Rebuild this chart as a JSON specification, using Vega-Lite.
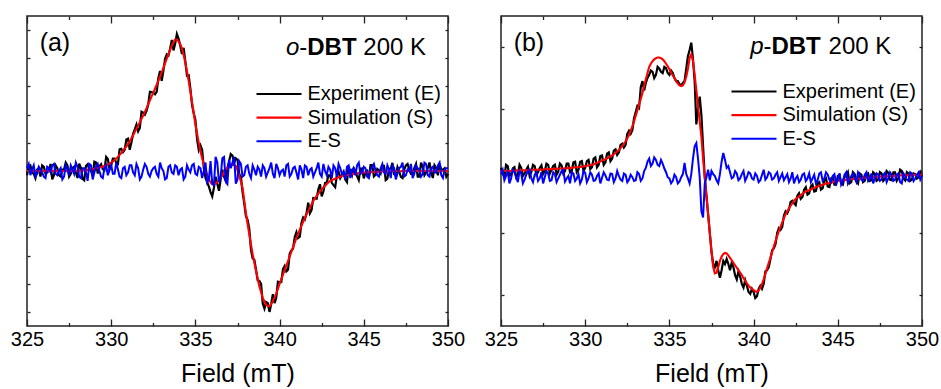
{
  "$schema": "https://vega.github.io/schema/vega-lite/v6.json",
  "padding": {"left": 9, "top": 14, "right": 2, "bottom": 0},
  "background": "white",
  "config": {
    "font": "Liberation Sans",
    "view": {"stroke": "#222", "strokeWidth": 1.5},
    "axis": {"grid": false, "labelFont": "Liberation Sans", "labelFontSize": 20, "labelColor": "#000", "titleFont": "Liberation Sans", "titleFontSize": 25, "titleFontWeight": "normal", "titleColor": "#000", "domain": false, "tickColor": "#222", "tickWidth": 1.3, "labelFlush": false, "labelOverlap": false},
    "legend": {"symbolType": "M-3,0H3", "symbolSize": 225, "symbolStrokeWidth": 2.2, "labelFontSize": 20, "labelFont": "Liberation Sans", "labelColor": "#000", "labelOffset": 18.5, "rowPadding": 3.6, "padding": 0},
    "text": {"font": "Liberation Sans", "fontSize": 24, "align": "left", "baseline": "alphabetic", "color": "#000"}
  },
  "datasets": {
    "a": [
      {"x":325.0,"s":0,"r":0.1,"e":-0.15},{"x":325.2,"s":0,"r":-0.15,"e":0.2},{"x":325.4,"s":0,"r":0.2,"e":-0.1},{"x":325.6,"s":0,"r":-0.1,"e":0.05},{"x":325.8,"s":0,"r":0.05,"e":-0.2},
      {"x":326.0,"s":0,"r":-0.2,"e":0.15},{"x":326.2,"s":0,"r":0.15,"e":-0.05},{"x":326.4,"s":0,"r":-0.05,"e":0.25},{"x":326.6,"s":0,"r":0.25,"e":-0.15},{"x":326.8,"s":0,"r":-0.15,"e":0.1},
      {"x":327.0,"s":0,"r":0.1,"e":-0.2},{"x":327.2,"s":0,"r":-0.2,"e":0.05},{"x":327.4,"s":0,"r":0.05,"e":0.2},{"x":327.6,"s":0,"r":0.2,"e":-0.1},{"x":327.8,"s":0,"r":-0.1,"e":0.15},
      {"x":328.0,"s":0,"r":0.15,"e":-0.25},{"x":328.2,"s":0.01,"r":-0.25,"e":0.11},{"x":328.4,"s":0.02,"r":0.1,"e":-0.33},{"x":328.6,"s":0.04,"r":-0.35,"e":0.24},{"x":328.8,"s":0.06,"r":0.2,"e":0.01},
      {"x":329.0,"s":0.08,"r":-0.05,"e":0.33},{"x":329.2,"s":0.11,"r":0.25,"e":-0.09},{"x":329.4,"s":0.14,"r":-0.2,"e":0.24},{"x":329.6,"s":0.18,"r":0.1,"e":0.03},{"x":329.8,"s":0.23,"r":-0.15,"e":0.43},
      {"x":330.0,"s":0.3,"r":0.2,"e":0.2},{"x":330.2,"s":0.39,"r":-0.1,"e":0.44},{"x":330.4,"s":0.5,"r":0.05,"e":0.25},{"x":330.6,"s":0.64,"r":-0.25,"e":0.79},{"x":330.8,"s":0.8,"r":0.15,"e":0.75},
      {"x":331.0,"s":0.95,"r":-0.05,"e":1.15},{"x":331.2,"s":1.16,"r":0.2,"e":1.01},{"x":331.4,"s":1.38,"r":-0.15,"e":1.48},{"x":331.6,"s":1.61,"r":0.1,"e":1.41},{"x":331.8,"s":1.85,"r":-0.2,"e":2.1},
      {"x":332.0,"s":2.1,"r":0.25,"e":2.0},{"x":332.2,"s":2.37,"r":-0.1,"e":2.37},{"x":332.4,"s":2.65,"r":0.0,"e":2.8},{"x":332.6,"s":2.92,"r":0.15,"e":2.72},{"x":332.8,"s":3.2,"r":-0.2,"e":3.3},
      {"x":333.0,"s":3.5,"r":0.1,"e":3.2},{"x":333.2,"s":3.83,"r":-0.3,"e":3.98},{"x":333.4,"s":4.15,"r":0.15,"e":4.1},{"x":333.6,"s":4.45,"r":-0.05,"e":4.65},{"x":333.8,"s":4.67,"r":0.2,"e":4.52},
      {"x":334.0,"s":4.6,"r":-0.15,"e":4.7},{"x":334.2,"s":4.35,"r":0.1,"e":4.15},{"x":334.4,"s":3.85,"r":-0.2,"e":3.9},{"x":334.6,"s":3.2,"r":0.05,"e":3.4},{"x":334.8,"s":2.45,"r":0.2,"e":2.35},
      {"x":335.0,"s":1.66,"r":-0.1,"e":1.81},{"x":335.2,"s":1.0,"r":0.15,"e":0.75},{"x":335.4,"s":0.45,"r":-0.25,"e":0.75},{"x":335.6,"s":0.05,"r":0.3,"e":-0.25},{"x":335.8,"s":-0.3,"r":-0.3,"e":-0.55},
      {"x":336.0,"s":-0.47,"r":-0.45,"e":-0.9},{"x":336.2,"s":-0.45,"r":0.5,"e":-0.2},{"x":336.4,"s":-0.32,"r":-0.4,"e":-0.7},{"x":336.6,"s":-0.15,"r":0.45,"e":0.05},{"x":336.8,"s":0.05,"r":-0.35,"e":-0.35},
      {"x":337.0,"s":0.18,"r":0.4,"e":0.35},{"x":337.2,"s":0.22,"r":0.3,"e":0.55},{"x":337.4,"s":0.18,"r":-0.45,"e":0.45},{"x":337.6,"s":-0.15,"r":0.35,"e":-0.1},{"x":337.8,"s":-0.6,"r":-0.2,"e":-0.75},
      {"x":338.0,"s":-1.5,"r":0.15,"e":-1.6},{"x":338.2,"s":-2.25,"r":-0.1,"e":-2.05},{"x":338.4,"s":-2.95,"r":0.2,"e":-3.1},{"x":338.6,"s":-3.55,"r":-0.15,"e":-3.5},{"x":338.8,"s":-4.1,"r":0.05,"e":-3.9},
      {"x":339.0,"s":-4.5,"r":0.2,"e":-4.7},{"x":339.2,"s":-4.75,"r":-0.2,"e":-4.65},{"x":339.4,"s":-4.8,"r":0.1,"e":-5.0},{"x":339.6,"s":-4.62,"r":-0.1,"e":-4.37},{"x":339.8,"s":-4.35,"r":0.25,"e":-4.5},
      {"x":340.0,"s":-4.0,"r":-0.15,"e":-3.95},{"x":340.2,"s":-3.68,"r":0.05,"e":-3.48},{"x":340.4,"s":-3.36,"r":0.2,"e":-3.56},{"x":340.6,"s":-3.03,"r":-0.2,"e":-2.93},{"x":340.8,"s":-2.7,"r":0.1,"e":-2.75},
      {"x":341.0,"s":-2.37,"r":-0.05,"e":-2.17},{"x":341.2,"s":-2.08,"r":0.2,"e":-2.33},{"x":341.4,"s":-1.8,"r":-0.25,"e":-1.65},{"x":341.6,"s":-1.54,"r":0.15,"e":-1.49},{"x":341.8,"s":-1.3,"r":0.05,"e":-1.5},
      {"x":342.0,"s":-1.06,"r":-0.2,"e":-0.96},{"x":342.2,"s":-0.88,"r":0.1,"e":-0.98},{"x":342.4,"s":-0.72,"r":-0.1,"e":-0.47},{"x":342.6,"s":-0.58,"r":0.25,"e":-0.73},{"x":342.8,"s":-0.46,"r":-0.15,"e":-0.41},
      {"x":343.0,"s":-0.35,"r":0.05,"e":-0.15},{"x":343.2,"s":-0.3,"r":0.2,"e":-0.5},{"x":343.4,"s":-0.25,"r":-0.2,"e":-0.15},{"x":343.6,"s":-0.2,"r":0.1,"e":-0.25},{"x":343.8,"s":-0.17,"r":-0.05,"e":-0.02},
      {"x":344.0,"s":-0.14,"r":0.15,"e":-0.39},{"x":344.2,"s":-0.12,"r":-0.25,"e":-0.02},{"x":344.4,"s":-0.1,"r":0.1,"e":0.1},{"x":344.6,"s":-0.08,"r":0.2,"e":-0.18},{"x":344.8,"s":-0.07,"r":-0.1,"e":0.08},
      {"x":345.0,"s":-0.06,"r":0.15,"e":-0.26},{"x":345.2,"s":-0.05,"r":-0.2,"e":0.0},{"x":345.4,"s":-0.04,"r":0.05,"e":0.21},{"x":345.6,"s":-0.04,"r":0.25,"e":-0.19},{"x":345.8,"s":-0.03,"r":-0.15,"e":0.07},
      {"x":346.0,"s":-0.03,"r":0.1,"e":-0.08},{"x":346.2,"s":-0.02,"r":-0.05,"e":0.18},{"x":346.4,"s":-0.02,"r":0.2,"e":-0.27},{"x":346.6,"s":-0.02,"r":-0.25,"e":0.08},{"x":346.8,"s":-0.01,"r":0.1,"e":-0.11},
      {"x":347.0,"s":-0.01,"r":-0.1,"e":0.14},{"x":347.2,"s":-0.01,"r":0.15,"e":-0.21},{"x":347.4,"s":0,"r":-0.2,"e":0.05},{"x":347.6,"s":0,"r":0.05,"e":0.25},{"x":347.8,"s":0,"r":0.25,"e":-0.1},
      {"x":348.0,"s":0,"r":-0.1,"e":0.1},{"x":348.2,"s":0,"r":0.1,"e":-0.2},{"x":348.4,"s":0,"r":-0.2,"e":0.3},{"x":348.6,"s":0,"r":0.3,"e":-0.15},{"x":348.8,"s":0,"r":-0.15,"e":0.1},
      {"x":349.0,"s":0,"r":0.1,"e":-0.05},{"x":349.2,"s":0,"r":-0.05,"e":0.2},{"x":349.4,"s":0,"r":0.2,"e":-0.15},{"x":349.6,"s":0,"r":-0.15,"e":0.05},{"x":349.8,"s":0,"r":0.05,"e":0.1},
      {"x":350.0,"s":0,"r":0.1,"e":-0.1},
      {"x":325.1,"s":0,"r":0.25,"e":0.15},{"x":325.3,"s":0,"r":0.05,"e":-0.05},{"x":325.5,"s":0,"r":-0.2,"e":-0.25},{"x":325.7,"s":0,"r":0.15,"e":0.1},{"x":325.9,"s":0,"r":-0.05,"e":0.2},
      {"x":326.1,"s":0,"r":-0.25,"e":-0.1},{"x":326.3,"s":0,"r":0.1,"e":0.0},{"x":326.5,"s":0,"r":0.2,"e":-0.3},{"x":326.7,"s":0,"r":-0.1,"e":0.2},{"x":326.9,"s":0,"r":0.0,"e":-0.15},
      {"x":327.1,"s":0,"r":-0.3,"e":0.05},{"x":327.3,"s":0,"r":0.2,"e":0.3},{"x":327.5,"s":0,"r":-0.15,"e":-0.2},{"x":327.7,"s":0,"r":0.05,"e":0.1},{"x":327.9,"s":0,"r":0.3,"e":-0.05},
      {"x":328.1,"s":0.01,"r":-0.2,"e":0.26},{"x":328.3,"s":0.02,"r":0.1,"e":-0.28},{"x":328.5,"s":0.03,"r":-0.05,"e":0.18},{"x":328.7,"s":0.05,"r":0.25,"e":0.05},{"x":328.9,"s":0.07,"r":-0.3,"e":-0.18},
      {"x":329.1,"s":0.1,"r":0.15,"e":0.3},{"x":329.3,"s":0.12,"r":0.0,"e":0.17},{"x":329.5,"s":0.16,"r":-0.25,"e":0.06},{"x":329.7,"s":0.2,"r":0.2,"e":0.5},{"x":329.9,"s":0.26,"r":0.05,"e":0.06},
      {"x":330.1,"s":0.34,"r":-0.1,"e":0.44},{"x":330.3,"s":0.44,"r":0.3,"e":0.29},{"x":330.5,"s":0.57,"r":-0.2,"e":0.77},{"x":330.7,"s":0.72,"r":0.1,"e":0.67},{"x":330.9,"s":0.87,"r":-0.15,"e":1.12},
      {"x":331.1,"s":1.05,"r":0.2,"e":0.75},{"x":331.3,"s":1.27,"r":-0.05,"e":1.32},{"x":331.5,"s":1.5,"r":0.25,"e":1.65},{"x":331.7,"s":1.73,"r":-0.3,"e":1.53},{"x":331.9,"s":1.97,"r":0.05,"e":2.07},
      {"x":332.1,"s":2.23,"r":0.15,"e":2.13},{"x":332.3,"s":2.51,"r":-0.2,"e":2.81},{"x":332.5,"s":2.78,"r":0.1,"e":2.78},{"x":332.7,"s":3.06,"r":-0.1,"e":2.81},{"x":332.9,"s":3.35,"r":0.3,"e":3.55},
      {"x":333.1,"s":3.66,"r":0.0,"e":3.56},{"x":333.3,"s":3.99,"r":-0.25,"e":4.14},{"x":333.5,"s":4.3,"r":0.2,"e":4.35},{"x":333.7,"s":4.58,"r":-0.1,"e":4.28},{"x":333.9,"s":4.66,"r":0.15,"e":4.86},
      {"x":334.1,"s":4.5,"r":0.05,"e":4.45},{"x":334.3,"s":4.12,"r":-0.3,"e":4.37},{"x":334.5,"s":3.53,"r":0.2,"e":3.38},{"x":334.7,"s":2.83,"r":-0.05,"e":2.93},{"x":334.9,"s":2.05,"r":0.25,"e":2.05},
      {"x":335.1,"s":1.32,"r":-0.15,"e":1.12},{"x":335.3,"s":0.71,"r":0.1,"e":0.91},{"x":335.5,"s":0.24,"r":0.0,"e":0.1},{"x":335.7,"s":-0.13,"r":-0.4,"e":-0.4},{"x":335.9,"s":-0.4,"r":0.35,"e":-0.75},
      {"x":336.1,"s":-0.47,"r":-0.5,"e":-0.6},{"x":336.3,"s":-0.39,"r":0.3,"e":-0.45},{"x":336.5,"s":-0.24,"r":-0.2,"e":-0.3},{"x":336.7,"s":-0.05,"r":0.5,"e":-0.2},{"x":336.9,"s":0.12,"r":-0.45,"e":0.1},
      {"x":337.1,"s":0.21,"r":0.1,"e":0.6},{"x":337.3,"s":0.21,"r":0.5,"e":0.3},{"x":337.5,"s":0.02,"r":-0.3,"e":0.4},{"x":337.7,"s":-0.37,"r":0.25,"e":-0.2},{"x":337.9,"s":-1.05,"r":-0.15,"e":-1.15},
      {"x":338.1,"s":-1.88,"r":0.2,"e":-1.73},{"x":338.3,"s":-2.6,"r":-0.25,"e":-2.8},{"x":338.5,"s":-3.25,"r":0.05,"e":-3.15},{"x":338.7,"s":-3.83,"r":0.15,"e":-3.88},{"x":338.9,"s":-4.3,"r":-0.2,"e":-4.0},
      {"x":339.1,"s":-4.63,"r":0.1,"e":-4.88},{"x":339.3,"s":-4.79,"r":-0.05,"e":-4.69},{"x":339.5,"s":-4.72,"r":0.3,"e":-4.72},{"x":339.7,"s":-4.49,"r":-0.25,"e":-4.69},{"x":339.9,"s":-4.18,"r":0.1,"e":-3.93},
      {"x":340.1,"s":-3.84,"r":0.0,"e":-3.94},{"x":340.3,"s":-3.52,"r":-0.2,"e":-3.37},{"x":340.5,"s":-3.2,"r":0.25,"e":-3.5},{"x":340.7,"s":-2.87,"r":-0.1,"e":-2.82},{"x":340.9,"s":-2.54,"r":0.15,"e":-2.34},
      {"x":341.1,"s":-2.23,"r":-0.3,"e":-2.38},{"x":341.3,"s":-1.94,"r":0.05,"e":-1.84},{"x":341.5,"s":-1.67,"r":0.2,"e":-1.72},{"x":341.7,"s":-1.42,"r":-0.15,"e":-1.12},{"x":341.9,"s":-1.18,"r":0.1,"e":-1.38},
      {"x":342.1,"s":-0.97,"r":-0.05,"e":-0.97},{"x":342.3,"s":-0.8,"r":0.3,"e":-0.65},{"x":342.5,"s":-0.65,"r":-0.2,"e":-0.9},{"x":342.7,"s":-0.52,"r":0.0,"e":-0.42},{"x":342.9,"s":-0.4,"r":0.15,"e":-0.15},
      {"x":343.1,"s":-0.32,"r":-0.25,"e":-0.42},{"x":343.3,"s":-0.27,"r":0.1,"e":-0.57},{"x":343.5,"s":-0.22,"r":0.25,"e":-0.02},{"x":343.7,"s":-0.18,"r":-0.1,"e":-0.13},{"x":343.9,"s":-0.15,"r":-0.3,"e":-0.3},
      {"x":344.1,"s":-0.13,"r":0.2,"e":0.17},{"x":344.3,"s":-0.11,"r":0.05,"e":-0.16},{"x":344.5,"s":-0.09,"r":-0.15,"e":0.01},{"x":344.7,"s":-0.07,"r":0.3,"e":-0.32},{"x":344.9,"s":-0.06,"r":-0.05,"e":0.09},
      {"x":345.1,"s":-0.05,"r":0.1,"e":-0.05},{"x":345.3,"s":-0.04,"r":-0.25,"e":-0.24},{"x":345.5,"s":-0.04,"r":0.15,"e":0.21},{"x":345.7,"s":-0.03,"r":0.0,"e":-0.13},{"x":345.9,"s":-0.03,"r":-0.2,"e":0.02},
      {"x":346.1,"s":-0.02,"r":0.25,"e":0.18},{"x":346.3,"s":-0.02,"r":-0.1,"e":-0.32},{"x":346.5,"s":-0.02,"r":0.05,"e":0.08},{"x":346.7,"s":-0.01,"r":0.2,"e":0.29},{"x":346.9,"s":-0.01,"r":-0.3,"e":-0.16},
      {"x":347.1,"s":-0.01,"r":0.1,"e":-0.01},{"x":347.3,"s":0,"r":0.3,"e":-0.25},{"x":347.5,"s":0,"r":-0.15,"e":0.2},{"x":347.7,"s":0,"r":0.0,"e":0.05},{"x":347.9,"s":0,"r":-0.25,"e":-0.1},
      {"x":348.1,"s":0,"r":0.2,"e":0.25},{"x":348.3,"s":0,"r":0.05,"e":-0.2},{"x":348.5,"s":0,"r":-0.1,"e":0.15},{"x":348.7,"s":0,"r":0.25,"e":-0.05},{"x":348.9,"s":0,"r":-0.2,"e":0.3},
      {"x":349.1,"s":0,"r":0.15,"e":-0.25},{"x":349.3,"s":0,"r":-0.05,"e":0.1},{"x":349.5,"s":0,"r":0.3,"e":0.25},{"x":349.7,"s":0,"r":-0.25,"e":0.05},{"x":349.9,"s":0,"r":0.1,"e":-0.2}
    ],
    "b": [
      {"x":325.0,"s":0.0,"r":-0.05,"e":0.05},{"x":325.2,"s":0.0,"r":-0.15,"e":-0.1},{"x":325.4,"s":0.0,"r":0.0,"e":0.08},{"x":325.6,"s":0.0,"r":-0.12,"e":-0.05},{"x":325.8,"s":0.0,"r":-0.02,"e":0.06},
      {"x":326.0,"s":0.01,"r":-0.18,"e":-0.06},{"x":326.2,"s":0.01,"r":-0.04,"e":0.05},{"x":326.4,"s":0.01,"r":-0.14,"e":-0.04},{"x":326.6,"s":0.01,"r":0.0,"e":0.07},{"x":326.8,"s":0.02,"r":-0.12,"e":-0.02},
      {"x":327.0,"s":0.02,"r":-0.06,"e":0.08},{"x":327.2,"s":0.02,"r":-0.16,"e":-0.02},{"x":327.4,"s":0.02,"r":-0.02,"e":0.09},{"x":327.6,"s":0.03,"r":-0.1,"e":0.0},{"x":327.8,"s":0.03,"r":-0.04,"e":0.1},
      {"x":328.0,"s":0.03,"r":-0.15,"e":0.02},{"x":328.2,"s":0.03,"r":-0.05,"e":0.1},{"x":328.4,"s":0.04,"r":-0.12,"e":-0.01},{"x":328.6,"s":0.04,"r":0.0,"e":0.09},{"x":328.8,"s":0.04,"r":-0.17,"e":0.0},
      {"x":329.0,"s":0.05,"r":-0.08,"e":0.12},{"x":329.2,"s":0.05,"r":-0.02,"e":0.0},{"x":329.4,"s":0.06,"r":-0.16,"e":0.15},{"x":329.6,"s":0.06,"r":-0.05,"e":0.02},{"x":329.8,"s":0.07,"r":-0.14,"e":0.16},
      {"x":330.0,"s":0.08,"r":-0.03,"e":0.05},{"x":330.2,"s":0.09,"r":-0.12,"e":0.18},{"x":330.4,"s":0.1,"r":-0.06,"e":0.06},{"x":330.6,"s":0.12,"r":-0.15,"e":0.22},{"x":330.8,"s":0.14,"r":-0.04,"e":0.1},
      {"x":331.0,"s":0.17,"r":-0.11,"e":0.25},{"x":331.2,"s":0.19,"r":-0.07,"e":0.14},{"x":331.4,"s":0.22,"r":-0.15,"e":0.3},{"x":331.6,"s":0.25,"r":-0.05,"e":0.2},{"x":331.8,"s":0.29,"r":-0.12,"e":0.35},
      {"x":332.0,"s":0.34,"r":-0.08,"e":0.3},{"x":332.2,"s":0.4,"r":-0.16,"e":0.44},{"x":332.4,"s":0.48,"r":-0.06,"e":0.42},{"x":332.6,"s":0.58,"r":-0.14,"e":0.65},{"x":332.8,"s":0.72,"r":-0.1,"e":0.66},
      {"x":333.0,"s":0.89,"r":-0.15,"e":0.95},{"x":333.2,"s":1.07,"r":-0.05,"e":1.02},{"x":333.4,"s":1.26,"r":-0.12,"e":1.45},{"x":333.6,"s":1.48,"r":0.05,"e":1.42},{"x":333.8,"s":1.68,"r":0.2,"e":1.55},
      {"x":334.0,"s":1.77,"r":0.12,"e":1.6},{"x":334.2,"s":1.82,"r":0.18,"e":1.55},{"x":334.4,"s":1.83,"r":0.08,"e":1.65},{"x":334.6,"s":1.8,"r":0.12,"e":1.58},{"x":334.8,"s":1.73,"r":-0.02,"e":1.66},
      {"x":335.0,"s":1.64,"r":-0.12,"e":1.55},{"x":335.2,"s":1.54,"r":-0.16,"e":1.58},{"x":335.4,"s":1.45,"r":-0.1,"e":1.45},{"x":335.6,"s":1.38,"r":-0.17,"e":1.4},{"x":335.8,"s":1.38,"r":-0.05,"e":1.42},
      {"x":335.9,"s":1.43,"r":0.13,"e":1.45},{"x":336.0,"s":1.52,"r":-0.05,"e":1.65},{"x":336.1,"s":1.65,"r":-0.12,"e":1.85},{"x":336.2,"s":1.82,"r":-0.2,"e":1.95},{"x":336.3,"s":1.88,"r":-0.05,"e":2.07},
      {"x":336.4,"s":1.78,"r":0.2,"e":1.8},{"x":336.5,"s":1.55,"r":0.4,"e":1.45},{"x":336.6,"s":1.3,"r":0.45,"e":0.75},{"x":336.7,"s":1.05,"r":0.2,"e":1.0},{"x":336.8,"s":0.8,"r":-0.1,"e":1.2},
      {"x":336.9,"s":0.55,"r":-0.65,"e":0.9},{"x":337.0,"s":0.2,"r":-0.75,"e":0.4},{"x":337.1,"s":-0.1,"r":-0.2,"e":-0.1},{"x":337.2,"s":-0.4,"r":-0.1,"e":-0.4},{"x":337.3,"s":-0.7,"r":0.02,"e":-0.7},
      {"x":337.4,"s":-1.0,"r":-0.15,"e":-1.0},{"x":337.5,"s":-1.3,"r":0.0,"e":-1.3},{"x":337.6,"s":-1.55,"r":-0.05,"e":-1.5},{"x":337.7,"s":-1.65,"r":-0.08,"e":-1.55},{"x":337.8,"s":-1.64,"r":-0.15,"e":-1.45},
      {"x":337.9,"s":-1.55,"r":-0.2,"e":-1.6},{"x":338.0,"s":-1.45,"r":-0.05,"e":-1.72},{"x":338.1,"s":-1.38,"r":0.15,"e":-1.6},{"x":338.2,"s":-1.34,"r":0.29,"e":-1.45},{"x":338.3,"s":-1.32,"r":0.18,"e":-1.5},
      {"x":338.4,"s":-1.33,"r":0.05,"e":-1.42},{"x":338.6,"s":-1.4,"r":-0.02,"e":-1.6},{"x":338.8,"s":-1.48,"r":-0.1,"e":-1.55},{"x":339.0,"s":-1.56,"r":-0.04,"e":-1.75},{"x":339.2,"s":-1.64,"r":-0.12,"e":-1.7},
      {"x":339.4,"s":-1.73,"r":0.0,"e":-1.88},{"x":339.6,"s":-1.81,"r":-0.1,"e":-1.85},{"x":339.8,"s":-1.88,"r":-0.04,"e":-1.98},{"x":340.0,"s":-1.92,"r":-0.14,"e":-1.95},{"x":340.2,"s":-1.95,"r":-0.08,"e":-2.02},
      {"x":340.4,"s":-1.88,"r":-0.15,"e":-1.85},{"x":340.6,"s":-1.75,"r":0.02,"e":-1.82},{"x":340.8,"s":-1.57,"r":-0.1,"e":-1.6},{"x":341.0,"s":-1.4,"r":-0.04,"e":-1.42},{"x":341.2,"s":-1.22,"r":-0.12,"e":-1.25},
      {"x":341.4,"s":-1.05,"r":-0.02,"e":-1.0},{"x":341.6,"s":-0.9,"r":-0.1,"e":-0.95},{"x":341.8,"s":-0.76,"r":-0.15,"e":-0.72},{"x":342.0,"s":-0.65,"r":-0.05,"e":-0.68},{"x":342.2,"s":-0.56,"r":-0.12,"e":-0.5},
      {"x":342.4,"s":-0.48,"r":-0.2,"e":-0.52},{"x":342.6,"s":-0.43,"r":-0.08,"e":-0.4},{"x":342.8,"s":-0.39,"r":-0.14,"e":-0.45},{"x":343.0,"s":-0.35,"r":-0.04,"e":-0.3},{"x":343.2,"s":-0.32,"r":-0.12,"e":-0.38},
      {"x":343.4,"s":-0.3,"r":-0.18,"e":-0.25},{"x":343.6,"s":-0.27,"r":-0.06,"e":-0.33},{"x":343.8,"s":-0.25,"r":-0.15,"e":-0.2},{"x":344.0,"s":-0.23,"r":-0.02,"e":-0.3},{"x":344.2,"s":-0.21,"r":-0.12,"e":-0.15},
      {"x":344.4,"s":-0.2,"r":-0.06,"e":-0.25},{"x":344.6,"s":-0.19,"r":-0.18,"e":-0.12},{"x":344.8,"s":-0.17,"r":-0.05,"e":-0.22},{"x":345.0,"s":-0.16,"r":-0.14,"e":-0.08},{"x":345.2,"s":-0.15,"r":-0.22,"e":-0.2},
      {"x":345.4,"s":-0.15,"r":-0.06,"e":-0.1},{"x":345.6,"s":-0.14,"r":-0.2,"e":-0.02},{"x":345.8,"s":-0.13,"r":-0.08,"e":-0.18},{"x":346.0,"s":-0.13,"r":-0.12,"e":-0.05},{"x":346.2,"s":-0.12,"r":-0.02,"e":-0.2},
      {"x":346.4,"s":-0.12,"r":-0.14,"e":-0.06},{"x":346.6,"s":-0.11,"r":-0.06,"e":-0.16},{"x":346.8,"s":-0.11,"r":-0.16,"e":-0.04},{"x":347.0,"s":-0.1,"r":-0.04,"e":-0.15},{"x":347.2,"s":-0.1,"r":-0.12,"e":-0.05},
      {"x":347.4,"s":-0.1,"r":-0.06,"e":-0.14},{"x":347.6,"s":-0.09,"r":-0.14,"e":-0.04},{"x":347.8,"s":-0.09,"r":-0.03,"e":-0.13},{"x":348.0,"s":-0.08,"r":-0.12,"e":-0.03},{"x":348.2,"s":-0.08,"r":-0.06,"e":-0.15},
      {"x":348.4,"s":-0.08,"r":-0.14,"e":-0.02},{"x":348.6,"s":-0.08,"r":-0.04,"e":-0.12},{"x":348.8,"s":-0.07,"r":-0.2,"e":0.0},{"x":349.0,"s":-0.07,"r":-0.08,"e":-0.15},{"x":349.2,"s":-0.07,"r":-0.16,"e":-0.04},
      {"x":349.4,"s":-0.07,"r":-0.04,"e":-0.14},{"x":349.6,"s":-0.06,"r":-0.12,"e":-0.05},{"x":349.8,"s":-0.06,"r":-0.02,"e":-0.1},{"x":350.0,"s":-0.06,"r":-0.08,"e":-0.08},
      {"x":325.1,"s":0,"r":0.02,"e":-0.04},{"x":325.3,"s":0,"r":-0.08,"e":0.1},{"x":325.5,"s":0,"r":-0.2,"e":-0.08},{"x":325.7,"s":0,"r":0.02,"e":0.04},{"x":325.9,"s":0.01,"r":-0.1,"e":-0.1},
      {"x":326.1,"s":0.01,"r":0.0,"e":0.1},{"x":326.3,"s":0.01,"r":-0.2,"e":-0.08},{"x":326.5,"s":0.01,"r":-0.06,"e":0.02},{"x":326.7,"s":0.015,"r":0.02,"e":-0.08},{"x":326.9,"s":0.02,"r":-0.18,"e":0.1},
      {"x":327.1,"s":0.02,"r":-0.02,"e":-0.06},{"x":327.3,"s":0.02,"r":-0.12,"e":0.05},{"x":327.5,"s":0.025,"r":-0.2,"e":-0.05},{"x":327.7,"s":0.03,"r":0.0,"e":0.12},{"x":327.9,"s":0.03,"r":-0.16,"e":-0.04},
      {"x":328.1,"s":0.03,"r":-0.02,"e":0.08},{"x":328.3,"s":0.035,"r":-0.18,"e":-0.06},{"x":328.5,"s":0.04,"r":-0.06,"e":0.12},{"x":328.7,"s":0.04,"r":0.02,"e":-0.04},{"x":328.9,"s":0.045,"r":-0.12,"e":0.12},
      {"x":329.1,"s":0.05,"r":-0.2,"e":-0.02},{"x":329.3,"s":0.055,"r":-0.04,"e":0.14},{"x":329.5,"s":0.06,"r":-0.12,"e":-0.02},{"x":329.7,"s":0.065,"r":-0.2,"e":0.15},{"x":329.9,"s":0.075,"r":0.0,"e":0.0},
      {"x":330.1,"s":0.085,"r":-0.18,"e":0.16},{"x":330.3,"s":0.095,"r":-0.02,"e":0.03},{"x":330.5,"s":0.11,"r":-0.16,"e":0.2},{"x":330.7,"s":0.13,"r":-0.08,"e":0.06},{"x":330.9,"s":0.155,"r":-0.2,"e":0.24},
      {"x":331.1,"s":0.18,"r":-0.02,"e":0.1},{"x":331.3,"s":0.205,"r":-0.14,"e":0.28},{"x":331.5,"s":0.235,"r":-0.04,"e":0.16},{"x":331.7,"s":0.27,"r":-0.18,"e":0.33},{"x":331.9,"s":0.315,"r":0.0,"e":0.26},
      {"x":332.1,"s":0.37,"r":-0.14,"e":0.42},{"x":332.3,"s":0.44,"r":-0.04,"e":0.38},{"x":332.5,"s":0.53,"r":-0.18,"e":0.6},{"x":332.7,"s":0.65,"r":-0.06,"e":0.6},{"x":332.9,"s":0.8,"r":-0.16,"e":0.85},
      {"x":333.1,"s":0.98,"r":-0.02,"e":1.05},{"x":333.3,"s":1.16,"r":-0.16,"e":1.35},{"x":333.5,"s":1.37,"r":0.0,"e":1.3},{"x":333.7,"s":1.58,"r":0.15,"e":1.5},{"x":333.9,"s":1.73,"r":0.08,"e":1.62},
      {"x":334.1,"s":1.8,"r":0.22,"e":1.5},{"x":334.3,"s":1.83,"r":0.1,"e":1.68},{"x":334.5,"s":1.82,"r":0.18,"e":1.6},{"x":334.7,"s":1.77,"r":0.04,"e":1.68},{"x":334.9,"s":1.69,"r":-0.1,"e":1.58},
      {"x":335.1,"s":1.59,"r":-0.2,"e":1.62},{"x":335.3,"s":1.5,"r":-0.06,"e":1.5},{"x":335.5,"s":1.41,"r":-0.2,"e":1.45},{"x":335.7,"s":1.37,"r":-0.1,"e":1.38},
      {"x":338.5,"s":-1.36,"r":0.08,"e":-1.5},{"x":338.7,"s":-1.44,"r":-0.12,"e":-1.48},{"x":338.9,"s":-1.52,"r":0.0,"e":-1.68},{"x":339.1,"s":-1.6,"r":-0.15,"e":-1.62},{"x":339.3,"s":-1.68,"r":-0.05,"e":-1.82},
      {"x":339.5,"s":-1.77,"r":-0.16,"e":-1.76},{"x":339.7,"s":-1.85,"r":-0.02,"e":-1.95},{"x":339.9,"s":-1.9,"r":-0.12,"e":-1.9},{"x":340.1,"s":-1.94,"r":-0.04,"e":-2.05},{"x":340.3,"s":-1.93,"r":-0.18,"e":-1.9},
      {"x":340.5,"s":-1.82,"r":-0.06,"e":-1.9},{"x":340.7,"s":-1.66,"r":-0.14,"e":-1.62},{"x":340.9,"s":-1.48,"r":-0.02,"e":-1.55},{"x":341.1,"s":-1.31,"r":-0.14,"e":-1.28},{"x":341.3,"s":-1.13,"r":-0.06,"e":-1.18},
      {"x":341.5,"s":-0.97,"r":-0.16,"e":-0.92},{"x":341.7,"s":-0.83,"r":-0.04,"e":-0.9},{"x":341.9,"s":-0.7,"r":-0.1,"e":-0.65},{"x":342.1,"s":-0.6,"r":-0.18,"e":-0.62},{"x":342.3,"s":-0.52,"r":-0.02,"e":-0.48},
      {"x":342.5,"s":-0.45,"r":-0.12,"e":-0.55},{"x":342.7,"s":-0.41,"r":-0.18,"e":-0.36},{"x":342.9,"s":-0.37,"r":-0.06,"e":-0.42},{"x":343.1,"s":-0.33,"r":-0.16,"e":-0.26},{"x":343.3,"s":-0.31,"r":-0.04,"e":-0.36},
      {"x":343.5,"s":-0.28,"r":-0.12,"e":-0.22},{"x":343.7,"s":-0.26,"r":-0.2,"e":-0.32},{"x":343.9,"s":-0.24,"r":-0.04,"e":-0.18},{"x":344.1,"s":-0.22,"r":-0.16,"e":-0.28},{"x":344.3,"s":-0.2,"r":-0.02,"e":-0.12},
      {"x":344.5,"s":-0.19,"r":-0.14,"e":-0.26},{"x":344.7,"s":-0.18,"r":-0.08,"e":-0.1},{"x":344.9,"s":-0.16,"r":-0.2,"e":-0.22},{"x":345.1,"s":-0.15,"r":-0.04,"e":-0.06},{"x":345.3,"s":-0.15,"r":-0.16,"e":-0.22},
      {"x":345.5,"s":-0.14,"r":-0.02,"e":-0.08},{"x":345.7,"s":-0.13,"r":-0.14,"e":-0.2},{"x":345.9,"s":-0.13,"r":-0.04,"e":-0.02},{"x":346.1,"s":-0.12,"r":-0.18,"e":-0.16},{"x":346.3,"s":-0.12,"r":-0.06,"e":-0.04},
      {"x":346.5,"s":-0.11,"r":-0.16,"e":-0.18},{"x":346.7,"s":-0.11,"r":-0.02,"e":-0.06},{"x":346.9,"s":-0.1,"r":-0.12,"e":-0.16},{"x":347.1,"s":-0.1,"r":-0.2,"e":-0.02},{"x":347.3,"s":-0.1,"r":-0.04,"e":-0.16},
      {"x":347.5,"s":-0.09,"r":-0.16,"e":-0.02},{"x":347.7,"s":-0.09,"r":-0.06,"e":-0.16},{"x":347.9,"s":-0.08,"r":-0.18,"e":0.0},{"x":348.1,"s":-0.08,"r":-0.02,"e":-0.14},{"x":348.3,"s":-0.08,"r":-0.16,"e":-0.02},
      {"x":348.5,"s":-0.08,"r":-0.06,"e":-0.16},{"x":348.7,"s":-0.07,"r":-0.18,"e":0.02},{"x":348.9,"s":-0.07,"r":-0.04,"e":-0.12},{"x":349.1,"s":-0.07,"r":-0.14,"e":-0.02},{"x":349.3,"s":-0.07,"r":-0.02,"e":-0.16},
      {"x":349.5,"s":-0.06,"r":-0.16,"e":-0.04},{"x":349.7,"s":-0.06,"r":-0.06,"e":-0.12},{"x":349.9,"s":-0.06,"r":-0.14,"e":-0.02}
    ]
  },
  "spacing": 53,
  "bounds": "flush",
  "resolve": {"scale": {"color": "independent", "strokeWidth": "independent"}, "legend": {"color": "independent"}},
  "hconcat": [
    {
      "width": 421, "height": 310,
      "resolve": {"axis": {"x": "independent", "y": "independent"}},
      "layer": [
        {
          "data": {"name": "a"},
          "transform": [{"fold": ["e", "s", "r"], "as": ["k", "v"]}],
          "mark": {"type": "line", "interpolate": "linear"},
          "encoding": {
            "x": {"field": "x", "type": "quantitative", "scale": {"domain": [325, 350], "nice": false, "zero": false},
                  "axis": {"orient": "bottom", "values": [325, 330, 335, 340, 345, 350], "tickSize": -7, "labelPadding": 10, "title": "Field (mT)", "titlePadding": 12}},
            "y": {"field": "v", "type": "quantitative", "scale": {"domain": [-5.5, 5.5], "nice": false, "zero": false},
                  "axis": {"orient": "left", "values": [-5, -4, -3, -2, -1, 0, 1, 2, 3, 4, 5], "tickSize": -3, "labels": false, "title": null}},
            "color": {"field": "k", "type": "nominal", "scale": {"domain": ["e", "s", "r"], "range": ["#000000", "#ff0000", "#0000ff"]},
                      "legend": {"orient": "none", "legendX": 242, "legendY": 68, "title": null,
                                 "labelExpr": "datum.label == 'e' ? 'Experiment (E)' : datum.label == 's' ? 'Simulation (S)' : 'E-S'"}},
            "strokeWidth": {"field": "k", "type": "nominal", "scale": {"domain": ["e", "s", "r"], "range": [2.2, 2, 1.7]}, "legend": null}
          }
        },
        {
          "data": {"values": [{}]},
          "mark": {"type": "text", "text": "(a)", "fontSize": 25},
          "encoding": {
            "x": {"datum": 325.75, "type": "quantitative", "axis": {"orient": "top", "values": [325, 330, 335, 340, 345, 350], "tickSize": -7, "labels": false, "title": null}},
            "y": {"datum": 4.25, "type": "quantitative", "axis": {"orient": "right", "values": [-5, -4, -3, -2, -1, 0, 1, 2, 3, 4, 5], "tickSize": -3, "labels": false, "title": null}}
          }
        },
        {
          "data": {"values": [{}]},
          "mark": {"type": "text", "text": "o", "fontStyle": "italic"},
          "encoding": {
            "x": {"datum": 340.38, "type": "quantitative", "axis": {"orient": "bottom", "values": [327.5, 332.5, 337.5, 342.5, 347.5], "tickSize": -3.5, "labels": false, "title": null}},
            "y": {"datum": 4.1, "type": "quantitative", "axis": null}
          }
        },
        {
          "data": {"values": [{}]},
          "mark": {"type": "text", "text": "-"},
          "encoding": {
            "x": {"datum": 341.17, "type": "quantitative", "axis": {"orient": "top", "values": [327.5, 332.5, 337.5, 342.5, 347.5], "tickSize": -3.5, "labels": false, "title": null}},
            "y": {"datum": 4.1, "type": "quantitative", "axis": null}
          }
        },
        {
          "data": {"values": [{}]},
          "mark": {"type": "text", "text": "DBT", "fontWeight": "bold"},
          "encoding": {
            "x": {"datum": 341.64, "type": "quantitative", "axis": null},
            "y": {"datum": 4.1, "type": "quantitative", "axis": null}
          }
        },
        {
          "data": {"values": [{}]},
          "mark": {"type": "text", "text": "200 K"},
          "encoding": {
            "x": {"datum": 344.97, "type": "quantitative", "axis": null},
            "y": {"datum": 4.1, "type": "quantitative", "axis": null}
          }
        }
      ]
    },
    {
      "width": 421, "height": 310,
      "resolve": {"axis": {"x": "independent", "y": "independent"}},
      "layer": [
        {
          "data": {"name": "b"},
          "transform": [{"fold": ["e", "s", "r"], "as": ["k", "v"]}],
          "mark": {"type": "line", "interpolate": "linear"},
          "encoding": {
            "x": {"field": "x", "type": "quantitative", "scale": {"domain": [325, 350], "nice": false, "zero": false},
                  "axis": {"orient": "bottom", "values": [325, 330, 335, 340, 345, 350], "tickSize": -7, "labelPadding": 10, "title": "Field (mT)", "titlePadding": 12}},
            "y": {"field": "v", "type": "quantitative", "scale": {"domain": [-2.5, 2.5], "nice": false, "zero": false},
                  "axis": {"orient": "left", "values": [-2, -1, 0, 1, 2], "tickSize": -3, "labels": false, "title": null}},
            "color": {"field": "k", "type": "nominal", "scale": {"domain": ["e", "s", "r"], "range": ["#000000", "#ff0000", "#0000ff"]},
                      "legend": {"orient": "none", "legendX": 243, "legendY": 65.5, "title": null,
                                 "labelExpr": "datum.label == 'e' ? 'Experiment (E)' : datum.label == 's' ? 'Simulation (S)' : 'E-S'"}},
            "strokeWidth": {"field": "k", "type": "nominal", "scale": {"domain": ["e", "s", "r"], "range": [2.2, 2, 1.7]}, "legend": null}
          }
        },
        {
          "data": {"values": [{}]},
          "mark": {"type": "text", "text": "(b)", "fontSize": 25},
          "encoding": {
            "x": {"datum": 325.75, "type": "quantitative", "axis": {"orient": "top", "values": [325, 330, 335, 340, 345, 350], "tickSize": -7, "labels": false, "title": null}},
            "y": {"datum": 1.94, "type": "quantitative", "axis": {"orient": "right", "values": [-2, -1, 0, 1, 2], "tickSize": -3, "labels": false, "title": null}}
          }
        },
        {
          "data": {"values": [{}]},
          "mark": {"type": "text", "text": "p", "fontStyle": "italic"},
          "encoding": {
            "x": {"datum": 339.8, "type": "quantitative", "axis": {"orient": "bottom", "values": [327.5, 332.5, 337.5, 342.5, 347.5], "tickSize": -3.5, "labels": false, "title": null}},
            "y": {"datum": 1.88, "type": "quantitative", "axis": null}
          }
        },
        {
          "data": {"values": [{}]},
          "mark": {"type": "text", "text": "-"},
          "encoding": {
            "x": {"datum": 340.59, "type": "quantitative", "axis": {"orient": "top", "values": [327.5, 332.5, 337.5, 342.5, 347.5], "tickSize": -3.5, "labels": false, "title": null}},
            "y": {"datum": 1.88, "type": "quantitative", "axis": null}
          }
        },
        {
          "data": {"values": [{}]},
          "mark": {"type": "text", "text": "DBT", "fontWeight": "bold"},
          "encoding": {
            "x": {"datum": 341.06, "type": "quantitative", "axis": null},
            "y": {"datum": 1.88, "type": "quantitative", "axis": null}
          }
        },
        {
          "data": {"values": [{}]},
          "mark": {"type": "text", "text": "200 K"},
          "encoding": {
            "x": {"datum": 344.45, "type": "quantitative", "axis": null},
            "y": {"datum": 1.88, "type": "quantitative", "axis": null}
          }
        }
      ]
    }
  ]
}
